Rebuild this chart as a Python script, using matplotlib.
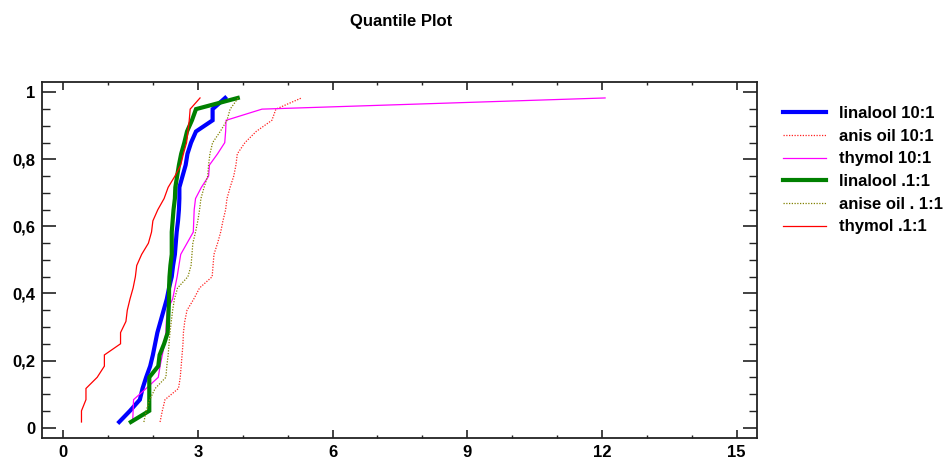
import matplotlib
matplotlib.use('Agg')
import matplotlib.pyplot as plt
from matplotlib.ticker import FixedLocator, MultipleLocator
import numpy as np

plt.rcParams['font.family'] = ['Liberation Sans', 'DejaVu Sans']
plt.rcParams['font.weight'] = 'bold'

# sorted sample values (30 per group)
linalool_10 = [1.25, 1.49, 1.71, 1.77, 1.85, 1.94, 2.00, 2.05, 2.10, 2.17,
               2.24, 2.31, 2.36, 2.42, 2.45, 2.49, 2.51, 2.53, 2.56, 2.58,
               2.59, 2.59, 2.66, 2.73, 2.77, 2.85, 2.96, 3.33, 3.33, 3.61]
anis_10 = [2.16, 2.21, 2.27, 2.57, 2.61, 2.63, 2.65, 2.67, 2.68, 2.71,
           2.76, 2.91, 3.04, 3.32, 3.34, 3.36, 3.44, 3.51, 3.56, 3.62,
           3.65, 3.72, 3.80, 3.85, 3.88, 4.05, 4.30, 4.65, 4.74, 5.31]
thymol_10 = [1.55, 1.56, 1.57, 1.85, 2.12, 2.16, 2.21, 2.26, 2.29, 2.30,
             2.32, 2.44, 2.49, 2.54, 2.58, 2.62, 2.76, 2.90, 2.91, 2.92,
             2.95, 3.08, 3.24, 3.26, 3.44, 3.60, 3.62, 3.63, 4.43, 12.07]
linalool_01 = [1.51, 1.92, 1.92, 1.92, 1.92, 2.12, 2.15, 2.25, 2.33, 2.34,
               2.35, 2.36, 2.36, 2.37, 2.39, 2.42, 2.42, 2.42, 2.44, 2.46,
               2.49, 2.50, 2.54, 2.58, 2.63, 2.70, 2.76, 2.87, 2.96, 3.89]
anise_01 = [1.80, 1.85, 1.93, 2.05, 2.29, 2.31, 2.34, 2.36, 2.38, 2.41,
            2.44, 2.48, 2.55, 2.78, 2.85, 2.87, 2.89, 2.95, 3.00, 3.04,
            3.07, 3.14, 3.22, 3.24, 3.27, 3.33, 3.50, 3.65, 3.72, 3.90]
thymol_01 = [0.41, 0.41, 0.51, 0.51, 0.76, 0.92, 0.92, 1.28, 1.28, 1.40,
             1.43, 1.49, 1.56, 1.61, 1.64, 1.75, 1.90, 1.97, 2.00, 2.11,
             2.25, 2.34, 2.49, 2.62, 2.68, 2.75, 2.78, 2.81, 2.83, 3.05]

labels = ['linalool 10:1', 'anis oil 10:1', 'thymol 10:1',
          'linalool .1:1', 'anise oil . 1:1', 'thymol .1:1']
series = [linalool_10, anis_10, thymol_10, linalool_01, anise_01, thymol_01]
colors = ['#0000ff', '#ff2020', '#ff00ff', '#008000', '#808000', '#ff0000']
widths = [3.0, 0.9, 0.9, 3.0, 0.9, 0.9]
styles = ['-', (0, (1, 1.2)), '-', '-', (0, (1, 1.2)), '-']

yticks = [0, 0.2, 0.4, 0.6, 0.8, 1.0]
ytick_labels = ['0', '0,2', '0,4', '0,6', '0,8', '1']
xticks = [0, 3, 6, 9, 12, 15]

fig = plt.figure(figsize=(9.45, 4.65), dpi=100)
ax = fig.add_axes([0.0444, 0.0574, 0.757, 0.7663])

for vals, lab, c, lw, ls in zip(series, labels, colors, widths, styles):
    x = np.array(vals)
    n = len(x)
    p = (np.arange(1, n + 1) - 0.5) / n  # plotting positions
    ax.plot(x, p, color=c, lw=lw, ls=ls, label=lab, solid_joinstyle='miter')

ax.set_xlim(-0.47, 15.46)
ax.set_ylim(-0.032, 1.031)

ax.xaxis.set_major_locator(FixedLocator(xticks))
ax.xaxis.set_minor_locator(MultipleLocator(1))
ax.yaxis.set_major_locator(FixedLocator(yticks))
ax.yaxis.set_minor_locator(MultipleLocator(0.05))
ax.set_yticklabels(ytick_labels)
ax.set_xticklabels([str(t) for t in xticks])

ax.tick_params(axis='both', which='both', direction='in', top=True, right=True,
               labelsize=12, color='#222222')
ax.tick_params(axis='x', which='major', length=6, width=1.2, pad=5)
ax.tick_params(axis='x', which='minor', length=2.5, width=1.0)
ax.tick_params(axis='y', which='major', length=10, width=1.2, pad=5)
ax.tick_params(axis='y', which='minor', length=5.8, width=1.0)
for lab in ax.get_xticklabels() + ax.get_yticklabels():
    lab.set_fontweight('bold')
for sp in ax.spines.values():
    sp.set_linewidth(1.3)
    sp.set_color('#222222')

fig.text(0.424, 0.954, 'Quantile Plot', ha='center', va='center',
         fontsize=12, fontweight='bold')

leg = ax.legend(loc='upper left', bbox_to_anchor=(0.8286, 0.772),
                bbox_transform=fig.transFigure, frameon=False,
                fontsize=12, handlelength=2.6, handletextpad=0.78,
                labelspacing=0.46, borderpad=0, borderaxespad=0)
for t in leg.get_texts():
    t.set_fontweight('bold')

fig.savefig('out.png', dpi=100)
